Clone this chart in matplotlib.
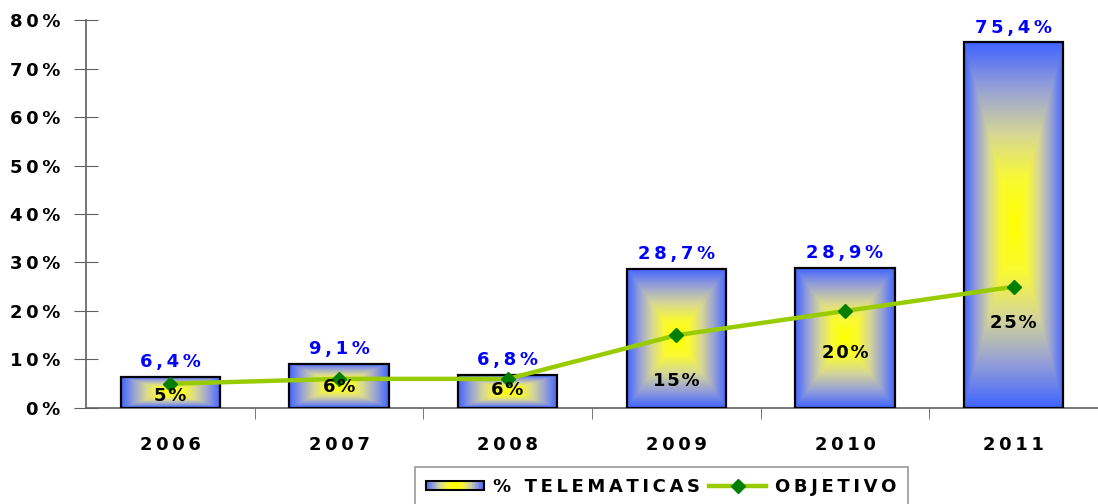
import numpy as np
import matplotlib
matplotlib.use('Agg')
import matplotlib.pyplot as plt
from matplotlib.patches import Rectangle
from matplotlib.lines import Line2D
from matplotlib.legend_handler import HandlerBase

years = ['2006', '2007', '2008', '2009', '2010', '2011']
telematicas = [6.4, 9.1, 6.8, 28.7, 28.9, 75.4]
objetivo = [5, 6, 6, 15, 20, 25]
# how far (points) each objetivo label sits under its marker
obj_label_dy = [9, 6, 8, 33, 30, 26]

# gradient stops: centre yellow -> grey -> blue border
paradas = [0.0, 0.25, 0.5, 0.75, 1.0]
colores = np.array([[255, 255, 0], [250, 250, 50], [215, 215, 150],
                    [150, 160, 215], [64, 100, 255]]) / 255

FS = 13


def mezcla(t):
    t = np.clip(t, 0, 1)
    return np.stack([np.interp(t, paradas, colores[:, k]) for k in range(3)], axis=-1)


def gradiente(n=300):
    u = np.linspace(-1, 1, n)
    U, V = np.meshgrid(u, u)
    t = np.maximum(np.abs(U), np.abs(V))
    return mezcla(t)


def espaciar(s, sep='\u2009'):
    # widen letter spacing
    return sep.join(s)


class GradHandler(HandlerBase):
    def create_artists(self, legend, orig_handle, xdescent, ydescent,
                       width, height, fontsize, trans):
        arts = []
        n = 40
        h = height * 0.75
        y0 = -ydescent + (height - h) / 2
        for i in range(n):
            t = abs((i + 0.5) / n * 2 - 1)
            c = mezcla(np.array(t))
            arts.append(Rectangle((-xdescent + i * width / n, y0), width / n, h,
                                  facecolor=c, edgecolor='none', transform=trans))
        arts.append(Rectangle((-xdescent, y0), width, h, facecolor='none',
                              edgecolor='black', linewidth=1.5, transform=trans))
        return arts


plt.rcParams['font.family'] = 'DejaVu Sans'
plt.rcParams['font.weight'] = 'bold'

fig = plt.figure(figsize=(10.98, 5.04), dpi=100)
ax = fig.add_axes([0.0783, 0.1905, 0.9217, 0.7698])

x = np.arange(len(years))
ancho = 0.59
img = gradiente()
for xi, v in zip(x, telematicas):
    rect = Rectangle((xi - ancho / 2, 0), ancho, v, facecolor='none',
                     edgecolor='black', linewidth=1.6, zorder=3)
    ax.add_patch(rect)
    im = ax.imshow(img, extent=(xi - ancho / 2, xi + ancho / 2, 0, v),
                   aspect='auto', zorder=2, interpolation='bilinear')
    im.set_clip_path(rect)
    ax.annotate(espaciar(f"{v:.1f}".replace('.', ',') + '%'), (xi, v), xytext=(0, 4),
                textcoords='offset points', ha='center', va='bottom',
                color='#0000ff', fontsize=FS, fontweight='bold', zorder=5)

ax.plot(x, objetivo, color='#99cc00', linewidth=3.2, marker='D', markersize=7,
        markerfacecolor='#007f00', markeredgecolor='#007f00', zorder=4)
for xi, v, dy in zip(x, objetivo, obj_label_dy):
    ax.annotate(espaciar(f"{v}%", '\u200a'), (xi, v), xytext=(0, -dy),
                textcoords='offset points', ha='center', va='center', fontsize=FS,
                fontweight='bold', color='black', zorder=5)

ax.set_xlim(-0.5, len(years) - 0.5)
ax.set_ylim(0, 80)
ax.set_yticks(np.arange(0, 81, 10))
ax.set_yticklabels([espaciar(f"{t}%") for t in range(0, 81, 10)], fontsize=FS,
                   fontweight='bold')
ax.set_xticks(x)
ax.set_xticklabels([espaciar(y) for y in years], fontsize=FS, fontweight='bold')
ax.set_xticks(np.arange(0.5, len(years) - 0.5, 1), minor=True)
ax.tick_params(axis='x', which='major', length=0, pad=20)
ax.tick_params(axis='x', which='minor', length=8, direction='out', color='#606060')
ax.tick_params(axis='y', direction='inout', length=17, color='#606060', pad=10)
for s in ['top', 'right']:
    ax.spines[s].set_visible(False)
for s in ['left', 'bottom']:
    ax.spines[s].set_color('#606060')
    ax.spines[s].set_linewidth(1.2)

h_bar = Rectangle((0, 0), 1, 1)
h_line = Line2D([], [], color='#99cc00', linewidth=3.2, marker='D', markersize=7,
                markerfacecolor='#007f00', markeredgecolor='#007f00')
leg = fig.legend([h_bar, h_line], [espaciar('% TELEMATICAS'), espaciar('OBJETIVO')],
                 handler_map={Rectangle: GradHandler()},
                 loc='upper left', bbox_to_anchor=(415 / 1098, 37 / 504),
                 ncol=2, fontsize=FS, frameon=True, fancybox=False,
                 handlelength=3.2, handletextpad=0.5, columnspacing=0.5,
                 borderpad=0.6, borderaxespad=0)
leg.get_frame().set_edgecolor('#808080')
leg.get_frame().set_linewidth(1.2)
for t in leg.get_texts():
    t.set_fontweight('bold')

fig.savefig('out.png', dpi=100)
